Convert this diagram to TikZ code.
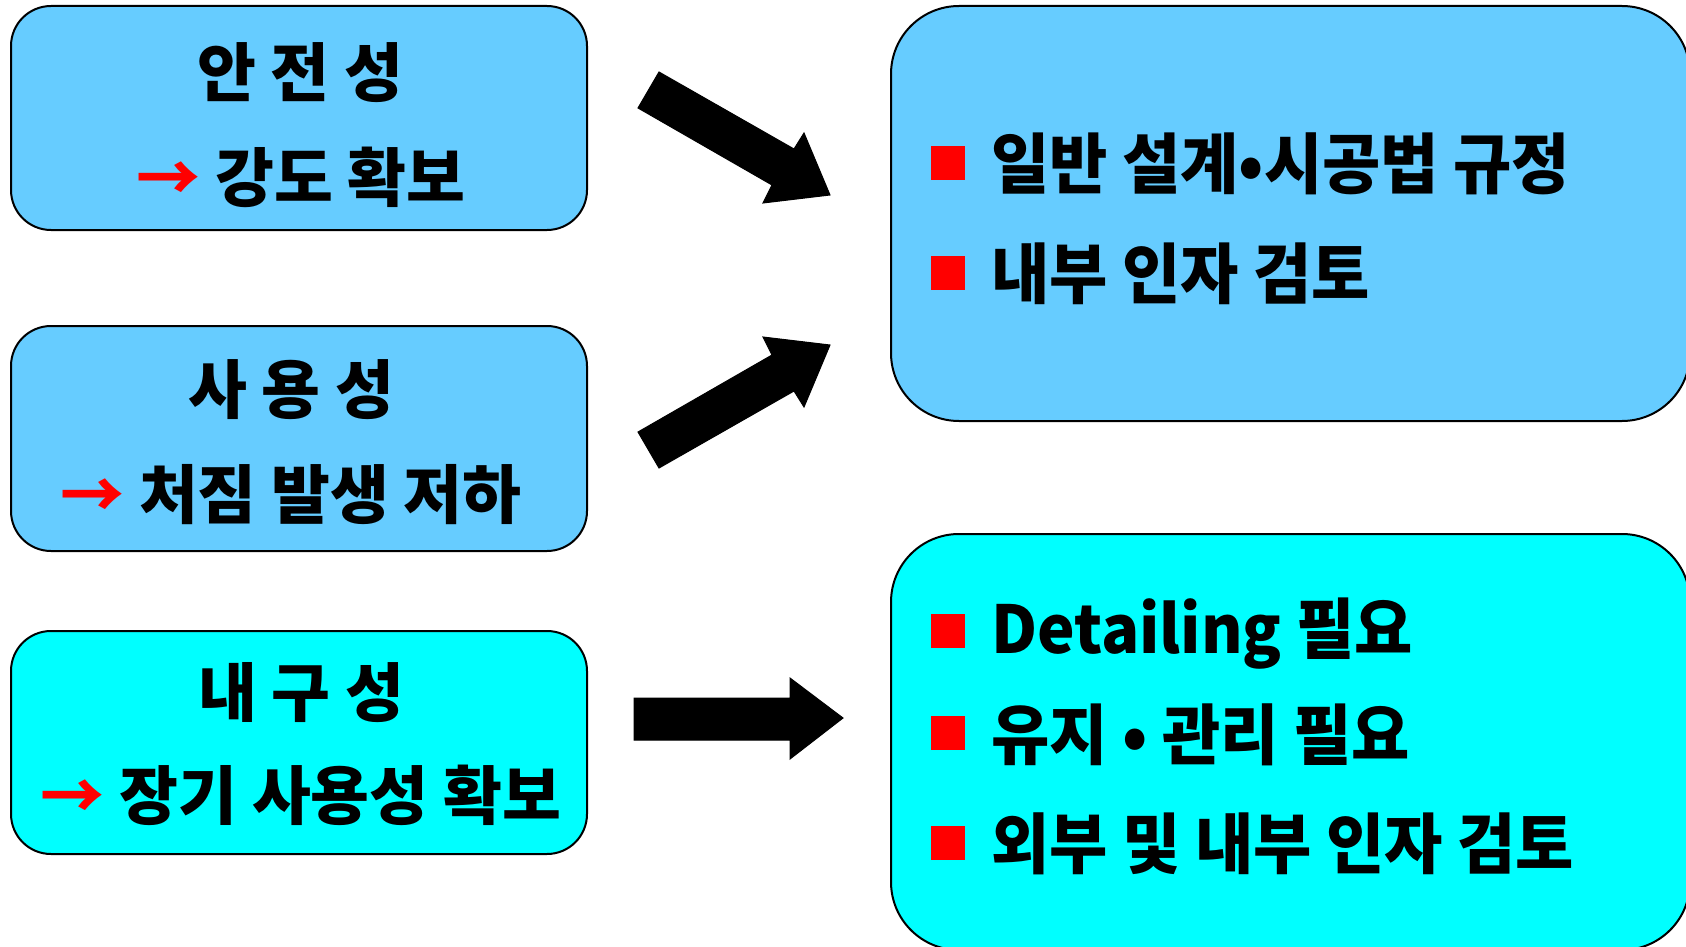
\documentclass[tikz,border=0pt]{standalone}
\usepackage{fontspec}
\setmainfont{Noto Sans CJK KR}
\newfontfamily\krnarrow{Noto Sans CJK KR}[FakeStretch=0.96]
\definecolor{lblue}{RGB}{102,204,255}
\definecolor{lcyan}{RGB}{0,255,255}
\begin{document}
\begin{tikzpicture}[x=1pt,y=-1pt,
 lbox/.style={draw=black,line width=2pt,rounded corners=40pt,inner sep=0pt},
 rbox/.style={draw=black,line width=2pt,rounded corners=68pt,inner sep=0pt},
 ltxt/.style={anchor=base,inner sep=0pt,font=\fontsize{64}{64}\selectfont\bfseries},
 rtxt/.style={anchor=base west,inner sep=0pt,font=\krnarrow\fontsize{66}{66}\selectfont\bfseries},
 bullet/.style={fill=red,minimum size=34pt,inner sep=0pt},
 bigarrow/.style={fill=black,draw=black,line width=1pt}]
\useasboundingbox (0,0) rectangle (1686,947);
\clip (0,0) rectangle (1686,947);
% left boxes
\node[lbox,fill=lblue,minimum width=576pt,minimum height=224pt] (b1) at (299,118) {};
\node[lbox,fill=lblue,minimum width=576pt,minimum height=225pt] (b2) at (299,438.5) {};
\node[lbox,fill=lcyan,minimum width=576pt,minimum height=223pt] (b3) at (299,742.5) {};
% right boxes
\node[rbox,fill=lblue,minimum width=799pt,minimum height=415pt] (r1) at (1290.5,213.5) {};
\node[rbox,fill=lcyan,minimum width=799pt,minimum height=416pt] (r2) at (1290.5,742) {};
% left texts
\node[ltxt] (t1a) at (300,97) {안 전 성};
\node[ltxt] (t1b) at (301,201) {\textcolor{red}{→} 강도 확보};
\node[ltxt] (t2a) at (291,413) {사 용 성};
\node[ltxt] (t2b) at (291,518) {\textcolor{red}{→} 처짐 발생 저하};
\node[ltxt] (t3a) at (301,716) {내 구 성};
\node[ltxt] (t3b) at (301,819) {\textcolor{red}{→} 장기 사용성 확보};
% right texts
\node[bullet] (q1) at (948,163) {};
\node[rtxt] (s1) at (991,188) {일반 설계•시공법 규정};
\node[bullet] (q2) at (948,273) {};
\node[rtxt] (s2) at (991,298) {내부 인자 검토};
\node[bullet] (q3) at (948,631) {};
\node[rtxt] (s3) at (991,653) {Detailing 필요};
\node[bullet] (q4) at (948,733) {};
\node[rtxt] (s4) at (991,759) {유지 • 관리 필요};
\node[bullet] (q5) at (948,843) {};
\node[rtxt] (s5) at (991,868) {외부 및 내부 인자 검토};
% big arrows
\filldraw[bigarrow] (659,72) -- (638,108) -- (772,185) -- (763,203) -- (830,195) -- (804,133) -- (794,149) -- cycle;
\filldraw[bigarrow] (659,468) -- (638,432) -- (772,355) -- (763,337) -- (830,345) -- (804,407) -- (794,391) -- cycle;
\filldraw[bigarrow] (634,698) -- (790,698) -- (790,678) -- (843,718) -- (790,759) -- (790,740) -- (634,740) -- cycle;
\end{tikzpicture}
\end{document}
